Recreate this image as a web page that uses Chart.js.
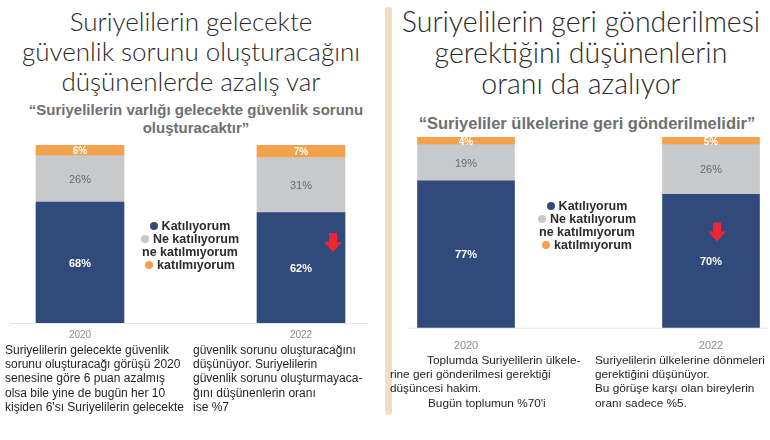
<!DOCTYPE html>
<html lang="tr">
<head>
<meta charset="utf-8">
<script src="https://cdn.jsdelivr.net/npm/chart.js@4.4.1/dist/chart.umd.min.js"></script>
<style>
  body { margin: 0; width: 770px; height: 440px; background: #fff; position: relative; overflow: hidden;
         font-family: "Liberation Sans", Arial, sans-serif; }
  .abs { position: absolute; }
  .title { font-family: Lato, "Open Sans", sans-serif; font-weight: 300; color: #2a2a2a; text-align: center; white-space: nowrap; }
  .sub { font-weight: bold; color: #6e6f71; text-align: center; white-space: nowrap; }
  .legend { font-weight: bold; color: #2b2b2b; font-size: 12.5px; line-height: 13px; text-align: center; white-space: nowrap; }
  .dot { display: inline-block; width: 8px; height: 8px; border-radius: 50%; margin-right: 4px; vertical-align: 0px; }
  .body { color: #1f1f1f; line-height: 14.2px; white-space: nowrap; }
  .sep { left: 385px; top: 7px; width: 7px; height: 408px; background: #f6dcc1; border-radius: 3px; }
</style>
</head>
<body>

<div class="abs title" style="left:0; width:382px; top:6px; font-size:26px; line-height:30px;">
  Suriyelilerin gelecekte<br>güvenlik sorunu oluşturacağını<br>düşünenlerde azalış var
</div>
<div class="abs sub" style="left:0; width:392px; top:101px; font-size:15px; line-height:18px;">
  “Suriyelilerin varlığı gelecekte güvenlik sorunu<br>oluşturacaktır”
</div>

<div class="abs sep"></div>

<div class="abs title" style="left:392px; width:378px; top:6px; font-size:28.5px; line-height:31px;">
  Suriyelilerin geri gönderilmesi<br>gerektiğini düşünenlerin<br>oranı da azalıyor
</div>
<div class="abs sub" style="left:392px; width:390px; top:114px; font-size:16.5px; line-height:18px;">
  “Suriyeliler ülkelerine geri gönderilmelidir”
</div>

<div class="abs" style="left:0; top:135px; width:385px; height:218px;"><canvas id="leftChart"></canvas></div>
<div class="abs" style="left:385px; top:127px; width:385px; height:243px;"><canvas id="rightChart"></canvas></div>

<div class="abs legend" style="left:110px; width:160px; top:220px;">
  <span class="dot" style="background:#2f4a7b"></span>Katılıyorum<br>
  <span class="dot" style="background:#c8c9cb"></span>Ne katılıyorum<br>
  ne katılmıyorum<br>
  <span class="dot" style="background:#f5a04b"></span>katılmıyorum
</div>
<div class="abs legend" style="left:507px; width:160px; top:200px;">
  <span class="dot" style="background:#2f4a7b"></span>Katılıyorum<br>
  <span class="dot" style="background:#c8c9cb"></span>Ne katılıyorum<br>
  ne katılmıyorum<br>
  <span class="dot" style="background:#f5a04b"></span>katılmıyorum
</div>

<div class="abs body" style="left:5px; top:343px; font-size:12px;">
  Suriyelilerin gelecekte güvenlik<br>sorunu oluşturacağı görüşü 2020<br>senesine göre 6 puan azalmış<br>olsa bile yine de bugün her 10<br>kişiden 6'sı Suriyelilerin gelecekte
</div>
<div class="abs body" style="left:193px; top:343px; font-size:12px;">
  güvenlik sorunu oluşturacağını<br>düşünüyor. Suriyelilerin<br>güvenlik sorunu oluşturmayaca-<br>ğını düşünenlerin oranı<br>ise %7
</div>
<div class="abs body" style="left:390px; top:353px; font-size:11.8px;">
  <span style="padding-left:37px">Toplumda Suriyelilerin ülkele-</span><br>rine geri gönderilmesi gerektiği<br>düşüncesi hakim.<br><span style="padding-left:38px">Bugün toplumun %70'i</span>
</div>
<div class="abs body" style="left:595px; top:353px; font-size:11.8px;">
  Suriyelilerin ülkelerine dönmeleri<br>gerektiğini düşünüyor.<br>Bu görüşe karşı olan bireylerin<br>oranı sadece %5.
</div>

<script>
// Veriler
const years = ['2020', '2022'];
const seriesNames = ['Katılıyorum', 'Ne katılıyorum ne katılmıyorum', 'katılmıyorum'];
const guvenlikKatiliyorum = [68, 62];
const guvenlikKararsiz = [26, 31];
const guvenlikKatilmiyorum = [6, 7];
const gonderilmeKatiliyorum = [77, 70];
const gonderilmeKararsiz = [19, 26];
const gonderilmeKatilmiyorum = [4, 5];

const seriesColors = ['#2f4a7b', '#c8c9cb', '#f5a04b'];
const labelColors = ['#ffffff', '#6a6a6a', '#ffffff'];

// Yüzde etiketleri, taban çizgisi ve kırmızı ok
const decoPlugin = {
    id: 'deco',
    beforeDatasetsDraw(chart, args, opts) {
        const ctx = chart.ctx;
        const y0 = chart.scales.y.getPixelForValue(0);
        ctx.save();
        ctx.strokeStyle = '#e4e4e4';
        ctx.lineWidth = 1;
        ctx.beginPath();
        ctx.moveTo(opts.lineFrom, y0 + 0.5);
        ctx.lineTo(opts.lineTo, y0 + 0.5);
        ctx.stroke();
        ctx.restore();
    },
    afterDatasetsDraw(chart, args, opts) {
        const ctx = chart.ctx;
        const area = chart.chartArea;
        ctx.save();
        ctx.textAlign = 'center';
        ctx.textBaseline = 'middle';
        chart.data.datasets.forEach((ds, i) => {
            const meta = chart.getDatasetMeta(i);
            meta.data.forEach((bar, j) => {
                const top = Math.max(bar.y, area.top);
                const y = (top + bar.base) / 2;
                ctx.fillStyle = labelColors[i];
                ctx.font = (i === 1 ? '' : 'bold ') + opts.fontSize[i] + 'px "Liberation Sans", Arial, sans-serif';
                ctx.fillText(ds.data[j] + '%', bar.x, y + 1);
            });
        });

        // ok
        const bar = chart.getDatasetMeta(0).data[1];
        const ax = bar.x + opts.arrowDx;
        const ay = chart.scales.y.getPixelForValue(opts.arrowAt);
        ctx.fillStyle = '#ee2633';
        ctx.beginPath();
        ctx.moveTo(ax - 4, ay - 10);
        ctx.lineTo(ax + 4, ay - 10);
        ctx.lineTo(ax + 4, ay - 1);
        ctx.lineTo(ax + 9, ay - 1);
        ctx.lineTo(ax, ay + 9);
        ctx.lineTo(ax - 9, ay - 1);
        ctx.lineTo(ax - 4, ay - 1);
        ctx.closePath();
        ctx.fill();
        ctx.restore();
    }
};

function makeChart(id, values, o) {
    const ctx = document.getElementById(id).getContext('2d');
    return new Chart(ctx, {
        type: 'bar',
        data: {
            labels: years,
            datasets: values.map((v, i) => ({
                label: seriesNames[i],
                data: v,
                backgroundColor: seriesColors[i],
                borderWidth: 0,
                barThickness: o.barWidth,
                clip: { left: false, right: false, top: 0, bottom: 0 }
            }))
        },
        options: {
            responsive: true,
            maintainAspectRatio: false,
            animation: false,
            layout: { padding: o.padding },
            plugins: {
                legend: { display: false },
                tooltip: { enabled: false },
                deco: { lineFrom: o.lineFrom, lineTo: o.lineTo, arrowAt: o.arrowAt, arrowDx: o.arrowDx, fontSize: o.fontSize }
            },
            scales: {
                x: {
                    stacked: true,
                    offset: false,
                    grid: { display: false, drawTicks: false },
                    border: { display: false },
                    ticks: {
                        color: '#8c8c8c',
                        padding: o.tickPad,
                        font: { size: o.tickSize, family: '"Liberation Sans", Arial, sans-serif' }
                    }
                },
                y: {
                    stacked: true,
                    display: false,
                    min: 0,
                    max: 100
                }
            }
        },
        plugins: [decoPlugin]
    });
}

makeChart('leftChart', [guvenlikKatiliyorum, guvenlikKararsiz, guvenlikKatilmiyorum], {
    barWidth: 88,
    padding: { top: 10, left: 80, right: 84, bottom: 6 },
    lineFrom: 10, lineTo: 368,
    arrowAt: 45, arrowDx: 32,
    tickPad: 6, tickSize: 10,
    fontSize: [11, 11, 10]
});

makeChart('rightChart', [gonderilmeKatiliyorum, gonderilmeKararsiz, gonderilmeKatilmiyorum], {
    barWidth: 97,
    padding: { top: 10, left: 81, right: 59, bottom: 5 },
    lineFrom: 23, lineTo: 383,
    arrowAt: 50, arrowDx: 6,
    tickPad: 12, tickSize: 11,
    fontSize: [11, 11, 10]
});
</script>
</body>
</html>
